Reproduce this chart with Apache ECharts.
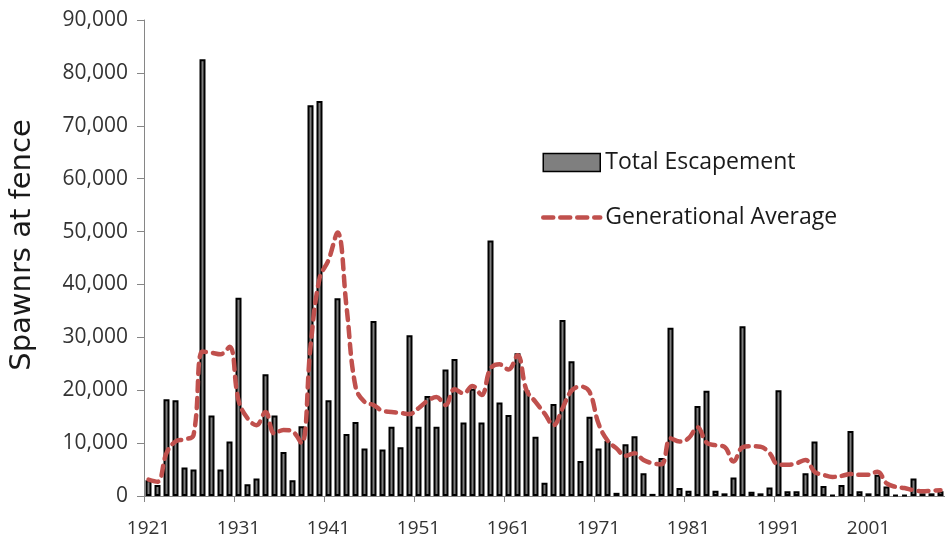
<!DOCTYPE html>
<html>
<head>
<meta charset="utf-8">
<script src="https://cdn.jsdelivr.net/npm/echarts@6/dist/echarts.min.js"></script>
<style>
html,body{margin:0;padding:0;background:#fff;}
#chart{width:945px;height:543px;}
</style>
</head>
<body>
<div id="chart"></div>
<script>
const years = [];
for (let y = 1921; y <= 2009; y++) years.push(String(y));

const yAxisTitle = 'Spawnrs at fence';
const seriesNames = ['Total Escapement', 'Generational Average'];

const totalEscapement = [
  3000, 2100, 18300, 18100, 5400, 5000, 82600, 15200, 5000, 10300,
  37500, 2200, 3300, 23000, 15200, 8300, 3000, 13200, 73900, 74700,
  18100, 37400, 11700, 14000, 9000, 33100, 8800, 13100, 9200, 30400,
  13100, 18900, 13100, 23900, 25900, 13900, 20300, 13900, 48300, 17700,
  15300, 27000, 20000, 11200, 2500, 17400, 33300, 25500, 6600, 15000,
  9000, 10400, 600, 9800, 11300, 4300, 400, 7200, 31800, 1500,
  1000, 17000, 19900, 1000, 500, 3500, 32100, 800, 500, 1600,
  20000, 900, 900, 4300, 10300, 1900, 200, 2100, 12300, 900,
  500, 4000, 1800, 200, 200, 3300, 500, 500, 900
];

const generationalAverage = [
  3100, 2700, 8100, 10300, 10700, 11500, 27300, 27100, 26800, 28200,
  18100, 14700, 13400, 15900, 11800, 12500, 12200, 10000, 28200, 41100,
  44600, 49800, 35800, 20700, 17800, 17200, 16100, 15900, 15700, 15500,
  16600, 18000, 18700, 17200, 20200, 19400, 20800, 19100, 24100, 24900,
  23900, 26600, 20000, 17800, 15600, 13400, 16600, 19900, 20700, 19700,
  13700, 10500, 9000, 7600, 8100, 6800, 6200, 6000, 10900, 10300,
  10900, 13000, 10100, 9600, 9300, 6500, 9200, 9400, 9300, 8100,
  5900, 5900, 6200, 6800, 4600, 4000, 3600, 3800, 4150, 4000,
  4000, 4600, 2400, 1750, 1500, 1100, 900, 1000, 1100
];

const yTicks = [0, 10000, 20000, 30000, 40000, 50000, 60000, 70000, 80000, 90000];

const chart = echarts.init(document.getElementById('chart'), null, {renderer: 'canvas'});
const fontFamily = '"Open Sans", sans-serif';
const lineColor = '#C0504D';
const dash = [10, 7];

chart.setOption({
  animation: false,
  backgroundColor: '#ffffff',
  grid: {left: 144, right: 0, top: 20, bottom: 47},
  legend: {
    orient: 'vertical',
    left: 541,
    top: 151,
    padding: 0,
    itemWidth: 57,
    itemHeight: 18,
    itemGap: 32,
    textStyle: {fontFamily: fontFamily, fontSize: 23, lineHeight: 20, color: '#1a1a1a'},
    data: [
      {name: seriesNames[0], icon: 'rect', itemStyle: {borderWidth: 1.5}},
      {name: seriesNames[1], itemStyle: {opacity: 0}, lineStyle: {width: 4.5, type: dash, cap: 'round', color: lineColor}}
    ]
  },
  graphic: [{
    type: 'text',
    x: 22,
    y: 245,
    rotation: Math.PI / 2,
    style: {
      text: yAxisTitle,
      fontFamily: '"DejaVu Sans", sans-serif',
      fontSize: 29,
      fill: '#1a1a1a',
      textAlign: 'center',
      textVerticalAlign: 'middle'
    }
  }],
  xAxis: {
    type: 'category',
    data: years,
    boundaryGap: true,
    axisLine: {lineStyle: {color: '#868686', width: 1}},
    axisTick: {show: true, interval: 9, length: 6, lineStyle: {color: '#868686'}},
    axisLabel: {interval: 9, margin: 23, fontFamily: fontFamily, fontSize: 19, color: '#333333'},
    splitLine: {show: false}
  },
  yAxis: {
    type: 'value',
    min: yTicks[0],
    max: yTicks[yTicks.length - 1],
    interval: 10000,
    axisLine: {show: true, lineStyle: {color: '#868686', width: 1}},
    axisTick: {show: true, length: 7, lineStyle: {color: '#868686'}},
    axisLabel: {
      margin: 16,
      fontFamily: fontFamily,
      fontSize: 21,
      color: '#333333',
      formatter: v => v.toLocaleString('en-US')
    },
    splitLine: {show: false}
  },
  series: [
    {
      name: seriesNames[0],
      type: 'bar',
      data: totalEscapement,
      barWidth: 6,
      itemStyle: {color: '#7f7f7f', borderColor: '#000000', borderWidth: 2}
    },
    {
      name: seriesNames[1],
      type: 'line',
      data: generationalAverage,
      smooth: 0.4,
      symbol: 'none',
      lineStyle: {color: lineColor, width: 4.5, type: dash, cap: 'round'},
      itemStyle: {color: lineColor},
      z: 5
    }
  ]
});
</script>
</body>
</html>
